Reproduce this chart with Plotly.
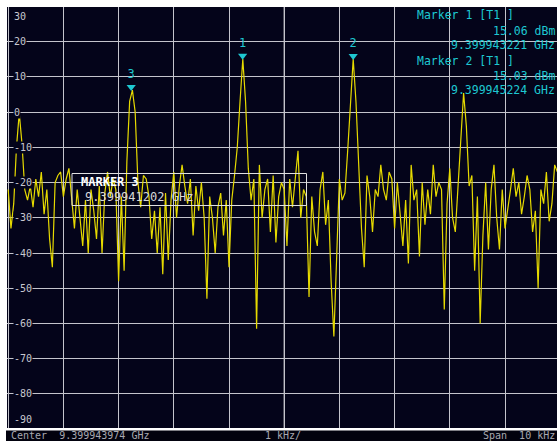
import plotly.graph_objects as go

# ---------------- data ----------------
center_ghz = 9.399943974
span_khz = 10
step_khz = 0.05
start_khz = -5.0

level_dbm = [
    -22, -33, -26, -10, -0.3, -9, -22, -25, -21, -27,
    -19, -24, -17, -29, -22, -36, -44, -20, -18, -17,
    -24, -19, -16, -25, -33, -22, -30, -38, -25, -40,
    -22, -28, -36, -21, -40, -23, -17, -24, -19, -22,
    -48, -24, -45, -14, 3, 6.2, 0, -20, -27, -18,
    -19, -24, -36, -28, -40, -27, -46, -23, -42, -25,
    -17, -30, -21, -15, -21, -26, -19, -35, -21, -28,
    -20, -30, -53, -24, -30, -40, -27, -23, -35, -25,
    -44, -25, -18, -10, 3, 15.06, 3, -16, -25, -19,
    -61.5, -15, -30, -22, -19, -34, -18, -37, -24, -20,
    -22, -38, -19, -27, -19, -11, -30, -22, -24, -52.5,
    -24, -34, -38, -22, -17, -32, -25, -48, -63.7, -40,
    -19, -25, -23, -11, 2, 15.03, 3, -15, -33, -44,
    -18, -24, -34, -22, -24, -15, -22, -25, -17, -19,
    -33, -20, -28, -38, -25, -43, -15, -25, -22, -41,
    -20, -32, -22, -29, -15, -24, -20, -22, -56, -26,
    -16, -30, -34, -21, -7, 5.4, -4, -21, -18, -45,
    -24, -60, -35, -20, -39, -22, -15, -30, -39, -22,
    -33, -28, -22, -16, -24, -20, -29, -24, -18, -22,
    -34, -28, -50, -22, -26, -17, -31, -26, -15, -17,
]

marker_labels = ["1", "2", "3"]
marker_ghz = [9.399943221, 9.399945224, 9.399941202]
marker_dbm = [15.06, 15.03, 6.2]

y_tick_vals = [30, 20, 10, 0, -10, -20, -30, -40, -50, -60, -70, -80, -90]

info_lines = [
    ("Marker 1 [T1 ]", "left"),
    ("15.06 dBm", "right"),
    ("9.399943221 GHz", "right"),
    ("Marker 2 [T1 ]", "left"),
    ("15.03 dBm", "right"),
    ("9.399945224 GHz", "right"),
]
marker3_lines = ["MARKER 3", "9.399941202 GHz"]
status_texts = ["Center  9.399943974 GHz", "1 kHz/", "Span  10 kHz"]

# ---------------- styling ----------------
W, H = 557, 441
PL, PT, PB = 7, 7, 13
plot_h = H - PT - PB
plot_w = W - PL
BG = "#04041a"
CYAN = "#1ec8d2"
YEL = "#e6da00"
GRID = "#c4c4cc"
MONO = "DejaVu Sans Mono"

def py(ypx):
    return (H - PB - ypx) / plot_h

def px(xpx):
    return (xpx - PL) / plot_w

freq_khz = [start_khz + step_khz * i for i in range(len(level_dbm))]
marker_khz = [(g - center_ghz) * 1e6 for g in marker_ghz]

fig = go.Figure()
fig.add_trace(go.Scatter(
    x=freq_khz, y=level_dbm, mode="lines",
    line=dict(color=YEL, width=1.2), hoverinfo="skip", showlegend=False,
))
fig.add_trace(go.Scatter(
    x=marker_khz, y=[v + 0.9 for v in marker_dbm], mode="markers+text",
    marker=dict(symbol="triangle-down", size=8, color=CYAN),
    text=marker_labels, textposition="top center",
    textfont=dict(color=CYAN, size=12, family=MONO),
    hoverinfo="skip", showlegend=False, cliponaxis=False,
))

annotations = []
y_top, y_bot = 29.8, -89.65
for v in y_tick_vals:
    a = dict(xref="paper", x=0, xanchor="left", xshift=6,
             yref="y", text=str(v), showarrow=False,
             font=dict(family=MONO, size=10, color="#c8c8d0"),
             bgcolor=BG, borderpad=0)
    if v == 30:
        a.update(y=y_top, yanchor="top", yshift=-3)
    elif v == -90:
        a.update(y=y_bot, yanchor="bottom", yshift=2)
    else:
        a.update(y=v, yanchor="middle")
    annotations.append(a)

info_y = [15, 30.7, 45, 61, 76, 90]
for (txt, side), yy in zip(info_lines, info_y):
    if side == "left":
        annotations.append(dict(xref="paper", x=px(415), xanchor="left",
                                yref="paper", y=py(yy), yanchor="middle",
                                text=txt, showarrow=False,
                                font=dict(family=MONO, size=11.5, color=CYAN)))
    else:
        annotations.append(dict(xref="paper", x=1, xanchor="right",
                                yref="paper", y=py(yy), yanchor="middle",
                                text=txt, showarrow=False,
                                font=dict(family=MONO, size=11.5, color=CYAN)))

annotations.append(dict(xref="paper", x=px(79), xanchor="left", yref="paper",
                        y=py(182.5), yanchor="middle", text="<b>" + marker3_lines[0] + "</b>",
                        showarrow=False, font=dict(family=MONO, size=12, color="#ffffff")))
annotations.append(dict(xref="paper", x=px(83), xanchor="left", yref="paper",
                        y=py(197), yanchor="middle", text=marker3_lines[1],
                        showarrow=False, font=dict(family=MONO, size=12, color="#d8d8d8")))

status_x = [(px(9), "left"), (px(263), "left"), (1, "right")]
for txt, (xx, anc) in zip(status_texts, status_x):
    annotations.append(dict(xref="paper", x=xx, xanchor=anc, yref="paper",
                            y=py(435.8), yanchor="middle", text=txt, showarrow=False,
                            font=dict(family=MONO, size=10, color="#a8a8b0")))

shapes = [
    # marker info panel hides grid
    dict(type="rect", xref="paper", yref="paper", x0=px(415), x1=1.01,
         y0=py(100), y1=1, fillcolor=BG, line=dict(width=0), layer="between"),
    # center line brighter
    dict(type="line", xref="x", yref="paper", x0=0, x1=0, y0=0, y1=1,
         line=dict(color="#ffffff", width=1), layer="between"),
    # marker 3 box
    dict(type="rect", xref="paper", yref="paper", x0=px(72), x1=px(306.5),
         y0=py(205.5), y1=py(173.5), line=dict(color="#e0e0e0", width=1),
         fillcolor="rgba(0,0,0,0)", layer="above"),
    # status bar
    dict(type="rect", xref="paper", yref="paper", x0=px(6), x1=1.01,
         y0=py(441.5), y1=py(430.5), fillcolor="#02020e", line=dict(width=0), layer="above"),
]

x_left = (PL - 284.2) / 55.2
x_right = (W - 284.2) / 55.2

fig.update_layout(
    width=W, height=H,
    margin=dict(l=PL, r=0, t=PT, b=PB, pad=0),
    paper_bgcolor="#ffffff", plot_bgcolor=BG,
    xaxis=dict(range=[x_left, x_right], dtick=1, tick0=0, showgrid=True,
               gridcolor=GRID, gridwidth=1, zeroline=False, showticklabels=False,
               showline=False, fixedrange=True),
    yaxis=dict(range=[y_bot, y_top], dtick=10, tick0=0, showgrid=True,
               gridcolor=GRID, gridwidth=1, zeroline=False, showticklabels=False,
               showline=False, fixedrange=True),
    annotations=annotations, shapes=shapes, showlegend=False,
)

fig.write_html(
    "out.html",
    config={"displayModeBar": False},
    post_script="document.body.style.margin='0';document.body.style.overflow='hidden';",
)
